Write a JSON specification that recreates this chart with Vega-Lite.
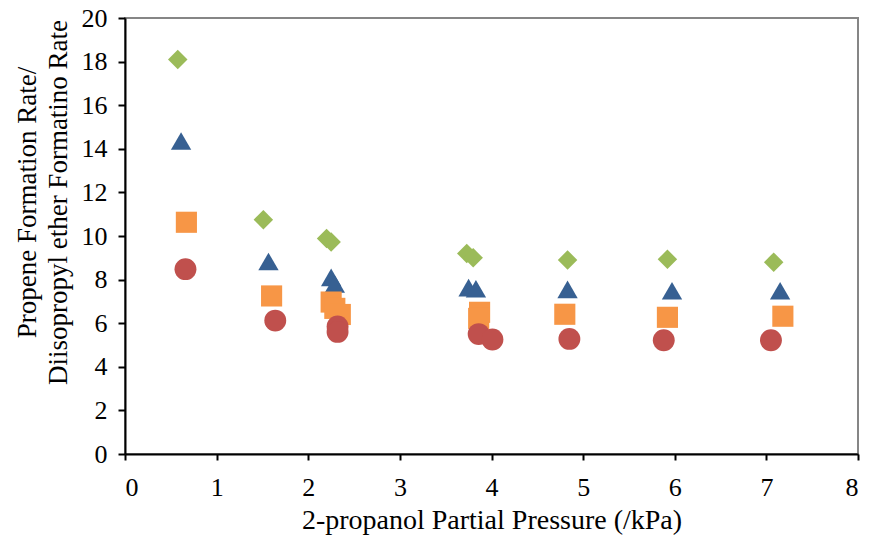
{
  "$schema": "https://vega.github.io/schema/vega-lite/v6.json",
  "width": 733,
  "height": 436,
  "autosize": "none",
  "padding": {"left": 125, "top": 18, "right": 12, "bottom": 90},
  "background": "white",
  "config": {
    "view": {"stroke": "#868686", "strokeWidth": 2},
    "style": {
      "guide-label": {"font": "Liberation Serif", "fontSize": 26, "fill": "black"},
      "guide-title": {"font": "Liberation Serif", "fontSize": 27, "fill": "black", "fontWeight": "normal"}
    },
    "axis": {"labelFont": "Liberation Serif", "labelFontSize": 26, "labelColor": "black"}
  },
  "data": {
    "values": [
      {"s": "d", "x": 0.576, "y": 18.1},
      {"s": "d", "x": 1.51, "y": 10.75},
      {"s": "d", "x": 2.2, "y": 9.89},
      {"s": "d", "x": 2.25, "y": 9.72},
      {"s": "d", "x": 3.73, "y": 9.2},
      {"s": "d", "x": 3.8, "y": 9.0},
      {"s": "d", "x": 4.83, "y": 8.9},
      {"s": "d", "x": 5.92, "y": 8.93},
      {"s": "d", "x": 7.08, "y": 8.8},
      {"s": "t", "x": 0.612, "y": 14.36},
      {"s": "t", "x": 1.566, "y": 8.83},
      {"s": "t", "x": 2.25, "y": 8.1},
      {"s": "t", "x": 2.29, "y": 7.8},
      {"s": "t", "x": 3.75, "y": 7.63},
      {"s": "t", "x": 3.83, "y": 7.58},
      {"s": "t", "x": 4.83, "y": 7.55},
      {"s": "t", "x": 5.97, "y": 7.49},
      {"s": "t", "x": 7.15, "y": 7.49},
      {"s": "q", "x": 0.67, "y": 10.63},
      {"s": "q", "x": 1.6, "y": 7.25},
      {"s": "q", "x": 2.25, "y": 6.97},
      {"s": "q", "x": 2.29, "y": 6.68},
      {"s": "q", "x": 2.35, "y": 6.4},
      {"s": "q", "x": 3.87, "y": 6.5},
      {"s": "q", "x": 3.86, "y": 6.22},
      {"s": "q", "x": 4.8, "y": 6.41},
      {"s": "q", "x": 5.92, "y": 6.27},
      {"s": "q", "x": 7.18, "y": 6.32},
      {"s": "c", "x": 0.66, "y": 8.48},
      {"s": "c", "x": 1.64, "y": 6.12},
      {"s": "c", "x": 2.32, "y": 5.85},
      {"s": "c", "x": 2.32, "y": 5.6},
      {"s": "c", "x": 3.86, "y": 5.5},
      {"s": "c", "x": 4.01, "y": 5.25},
      {"s": "c", "x": 4.85, "y": 5.28},
      {"s": "c", "x": 5.88, "y": 5.22},
      {"s": "c", "x": 7.05, "y": 5.22}
    ]
  },
  "mark": {"type": "point", "filled": true, "opacity": 1, "strokeWidth": 0},
  "encoding": {
    "x": {
      "field": "x",
      "type": "quantitative",
      "scale": {"domain": [0, 8], "nice": false},
      "axis": {
        "title": "2-propanol Partial Pressure (/kPa)",
        "titleFont": "Liberation Serif",
        "titleFontSize": 28,
        "titleFontWeight": "normal",
        "titleColor": "black",
        "labelFont": "Liberation Serif",
        "labelFontSize": 26,
        "labelColor": "black",
        "grid": false,
        "domainColor": "black",
        "domainWidth": 2,
        "tickColor": "black",
        "tickWidth": 2,
        "values": [0, 1, 2, 3, 4, 5, 6, 7, 8],
        "tickSize": 6,
        "labelPadding": 14,
        "titlePadding": 6
      }
    },
    "y": {
      "field": "y",
      "type": "quantitative",
      "scale": {"domain": [0, 20], "nice": false},
      "axis": {
        "title": ["Propene Formation Rate/", "Diisopropyl ether Formatino Rate"],
        "titleFont": "Liberation Serif",
        "titleFontSize": 27,
        "titleFontWeight": "normal",
        "titleColor": "black",
        "labelFont": "Liberation Serif",
        "labelFontSize": 26,
        "labelColor": "black",
        "grid": false,
        "domainColor": "black",
        "domainWidth": 2,
        "tickColor": "black",
        "tickWidth": 2,
        "values": [0, 2, 4, 6, 8, 10, 12, 14, 16, 18, 20],
        "tickSize": 7,
        "labelPadding": 11,
        "titleLineHeight": 31,
        "titleAngle": -90,
        "titleAlign": "center",
        "titleBaseline": "top",
        "titleX": -111,
        "titleY": 184
      }
    },
    "color": {
      "field": "s",
      "type": "nominal",
      "scale": {"domain": ["d", "t", "q", "c"], "range": ["#9BBB59", "#376092", "#F79646", "#C0504D"]},
      "legend": null
    },
    "shape": {
      "field": "s",
      "type": "nominal",
      "scale": {"domain": ["d", "t", "q", "c"], "range": ["diamond", "triangle-up", "square", "circle"]},
      "legend": null
    },
    "size": {
      "field": "s",
      "type": "nominal",
      "scale": {"domain": ["d", "t", "q", "c"], "range": [380, 480, 361, 300]},
      "legend": null
    }
  }
}
